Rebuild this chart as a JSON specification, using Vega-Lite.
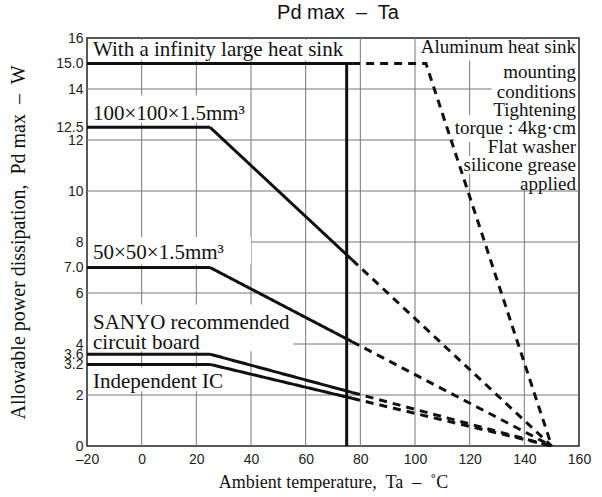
{
  "$schema": "https://vega.github.io/schema/vega-lite/v6.json",
  "width": 492,
  "height": 408,
  "autosize": {"type": "none"},
  "padding": {"left": 87, "top": 38, "right": 23, "bottom": 51},
  "background": "white",
  "config": {
    "view": {"stroke": "#222", "strokeWidth": 1.5},
    "font": "Liberation Sans"
  },
  "title": {
    "text": "Pd max\u00a0 –\u00a0 Ta",
    "font": "Liberation Sans",
    "fontSize": 20,
    "fontWeight": "normal",
    "color": "#111",
    "anchor": "middle",
    "dx": 5,
    "offset": 8
  },
  "datasets": {
    "vgrid": [
      {"ta": 0, "pd": 0, "pd2": 16}, {"ta": 20, "pd": 0, "pd2": 16}, {"ta": 40, "pd": 0, "pd2": 16}, {"ta": 60, "pd": 0, "pd2": 16},
      {"ta": 80, "pd": 0, "pd2": 16}, {"ta": 100, "pd": 0, "pd2": 16}, {"ta": 120, "pd": 0, "pd2": 16}, {"ta": 140, "pd": 0, "pd2": 16}
    ],
    "hgrid": [
      {"pd": 2, "ta": -20, "ta2": 160}, {"pd": 4, "ta": -20, "ta2": 160}, {"pd": 6, "ta": -20, "ta2": 160}, {"pd": 8, "ta": -20, "ta2": 160},
      {"pd": 10, "ta": -20, "ta2": 160}, {"pd": 12, "ta": -20, "ta2": 160}, {"pd": 14, "ta": -20, "ta2": 160}
    ],
    "boxes": [
      {"ta": -19.6, "ta2": 78, "pd": 15.12, "pd2": 15.93},
      {"ta": -19.6, "ta2": 39, "pd": 12.68, "pd2": 13.75},
      {"ta": -19.6, "ta2": 40, "pd": 7.12, "pd2": 8.2},
      {"ta": -19.6, "ta2": 55.5, "pd": 3.72, "pd2": 5.55},
      {"ta": -19.6, "ta2": 32, "pd": 2.15, "pd2": 3.08},
      {"ta": 102, "ta2": 159.6, "pd": 15.12, "pd2": 15.93},
      {"ta": 132, "ta2": 159.6, "pd": 14.35, "pd2": 15.12},
      {"ta": 128, "ta2": 159.6, "pd": 13.57, "pd2": 14.35},
      {"ta": 128.5, "ta2": 159.6, "pd": 12.98, "pd2": 13.57},
      {"ta": 114.6, "ta2": 159.6, "pd": 11.92, "pd2": 12.98},
      {"ta": 126.5, "ta2": 159.6, "pd": 11.37, "pd2": 11.92},
      {"ta": 117.5, "ta2": 159.6, "pd": 10.67, "pd2": 11.37},
      {"ta": 139.5, "ta2": 159.6, "pd": 10.08, "pd2": 10.67}
    ],
    "curves": [
      {"series": "inf", "seg": "solid", "ta": -20, "pd": 15},
      {"series": "inf", "seg": "solid", "ta": 77, "pd": 15},
      {"series": "inf", "seg": "dashed", "ta": 77, "pd": 15},
      {"series": "inf", "seg": "dashed", "ta": 104, "pd": 15},
      {"series": "inf", "seg": "dashed", "ta": 150, "pd": 0},
      {"series": "100", "seg": "solid", "ta": -20, "pd": 12.5},
      {"series": "100", "seg": "solid", "ta": 25, "pd": 12.5},
      {"series": "100", "seg": "solid", "ta": 77, "pd": 7.3},
      {"series": "100", "seg": "dashed", "ta": 77, "pd": 7.3},
      {"series": "100", "seg": "dashed", "ta": 150, "pd": 0},
      {"series": "50", "seg": "solid", "ta": -20, "pd": 7.0},
      {"series": "50", "seg": "solid", "ta": 25, "pd": 7.0},
      {"series": "50", "seg": "solid", "ta": 77, "pd": 4.09},
      {"series": "50", "seg": "dashed", "ta": 77, "pd": 4.09},
      {"series": "50", "seg": "dashed", "ta": 150, "pd": 0},
      {"series": "sanyo", "seg": "solid", "ta": -20, "pd": 3.6},
      {"series": "sanyo", "seg": "solid", "ta": 25, "pd": 3.6},
      {"series": "sanyo", "seg": "solid", "ta": 77, "pd": 2.1},
      {"series": "sanyo", "seg": "dashed", "ta": 77, "pd": 2.1},
      {"series": "sanyo", "seg": "dashed", "ta": 150, "pd": 0},
      {"series": "ic", "seg": "solid", "ta": -20, "pd": 3.2},
      {"series": "ic", "seg": "solid", "ta": 25, "pd": 3.2},
      {"series": "ic", "seg": "solid", "ta": 77, "pd": 1.87},
      {"series": "ic", "seg": "dashed", "ta": 77, "pd": 1.87},
      {"series": "ic", "seg": "dashed", "ta": 150, "pd": 0}
    ],
    "limit": [{"ta": 75, "pd": 0, "pd2": 15}],
    "labels": [
      {"text": "With a infinity large heat sink", "ta": -17.8, "pd": 15.53, "side": "left"},
      {"text": "100×100×1.5mm³", "ta": -17.8, "pd": 13.02, "side": "left"},
      {"text": "50×50×1.5mm³", "ta": -17.8, "pd": 7.57, "side": "left"},
      {"text": "SANYO recommended", "ta": -17.8, "pd": 4.82, "side": "left"},
      {"text": "circuit board", "ta": -17.8, "pd": 4.04, "side": "left"},
      {"text": "Independent IC", "ta": -17.8, "pd": 2.51, "side": "left"},
      {"text": "Aluminum heat sink", "ta": 158.9, "pd": 15.65, "side": "right"},
      {"text": "mounting", "ta": 158.9, "pd": 14.67, "side": "right"},
      {"text": "conditions", "ta": 158.9, "pd": 13.88, "side": "right"},
      {"text": "Tightening", "ta": 158.9, "pd": 13.18, "side": "right"},
      {"text": "torque : 4kg·cm", "ta": 158.9, "pd": 12.47, "side": "right"},
      {"text": "Flat washer", "ta": 158.9, "pd": 11.73, "side": "right"},
      {"text": "silicone grease", "ta": 158.9, "pd": 11.02, "side": "right"},
      {"text": "applied", "ta": 158.9, "pd": 10.27, "side": "right"}
    ]
  },
  "encoding": {
    "x": {
      "field": "ta", "type": "quantitative",
      "title": "Ambient temperature,\u00a0 Ta\u00a0 –\u00a0 ˚C",
      "scale": {"domain": [-20, 160], "nice": false, "zero": false},
      "axis": {
        "values": [-20, 0, 20, 40, 60, 80, 100, 120, 140, 160],
        "labelExpr": "datum.value < 0 ? '–' + abs(datum.value) : '' + datum.value",
        "ticks": false,
        "domain": false,
        "grid": false,
        "labelOverlap": false,
        "labelFont": "Liberation Sans",
        "labelFontSize": 14,
        "labelColor": "#222",
        "labelPadding": 6,
        "labelFlush": false,
        "titleFont": "Liberation Serif",
        "titleFontSize": 18,
        "titleFontWeight": "normal",
        "titleColor": "#111",
        "titlePadding": 7
      }
    },
    "y": {
      "field": "pd", "type": "quantitative",
      "title": "Allowable power dissipation,\u00a0 Pd max\u00a0 –\u00a0 W",
      "scale": {"domain": [0, 16], "nice": false, "zero": false},
      "axis": {
        "values": [0, 2, 3.2, 3.6, 4, 6, 7, 8, 10, 12, 12.5, 14, 15, 16],
        "labelExpr": "datum.value == 7 ? '7.0' : datum.value == 15 ? '15.0' : format(datum.value, '.1~f')",
        "ticks": false,
        "domain": false,
        "grid": false,
        "labelOverlap": false,
        "labelBound": false,
        "labelFlush": false,
        "labelFont": "Liberation Sans",
        "labelFontSize": 14,
        "labelColor": "#222",
        "labelPadding": 4,
        "titleFont": "Liberation Serif",
        "titleFontSize": 20,
        "titleFontWeight": "normal",
        "titleColor": "#111",
        "titlePadding": 27
      }
    }
  },
  "layer": [
    {
      "data": {"name": "vgrid"},
      "mark": {"type": "rule", "color": "#777", "strokeWidth": 1},
      "encoding": {"y2": {"field": "pd2"}}
    },
    {
      "data": {"name": "hgrid"},
      "mark": {"type": "rule", "color": "#777", "strokeWidth": 1},
      "encoding": {"x2": {"field": "ta2"}}
    },
    {
      "data": {"name": "boxes"},
      "mark": {"type": "rect", "color": "white"},
      "encoding": {
        "x2": {"field": "ta2"},
        "y2": {"field": "pd2"}
      }
    },
    {
      "data": {"name": "limit"},
      "mark": {"type": "rule", "color": "#111", "strokeWidth": 3},
      "encoding": {"y2": {"field": "pd2"}}
    },
    {
      "data": {"name": "curves"},
      "mark": {"type": "line", "color": "#111", "strokeWidth": 3},
      "encoding": {
        "detail": [{"field": "series"}, {"field": "seg"}],
        "order": {"field": "ta", "type": "quantitative"},
        "strokeDash": {
          "field": "seg", "type": "nominal",
          "scale": {"domain": ["solid", "dashed"], "range": [[1, 0], [8, 6]]},
          "legend": null
        }
      }
    },
    {
      "data": {"name": "labels"},
      "transform": [{"filter": "datum.side == 'left'"}],
      "mark": {"type": "text", "font": "Liberation Serif", "fontSize": 21, "color": "#111", "baseline": "middle", "align": "left"},
      "encoding": {"text": {"field": "text"}}
    },
    {
      "data": {"name": "labels"},
      "transform": [{"filter": "datum.side == 'right'"}],
      "mark": {"type": "text", "font": "Liberation Serif", "fontSize": 19, "color": "#111", "baseline": "middle", "align": "right"},
      "encoding": {"text": {"field": "text"}}
    }
  ]
}
